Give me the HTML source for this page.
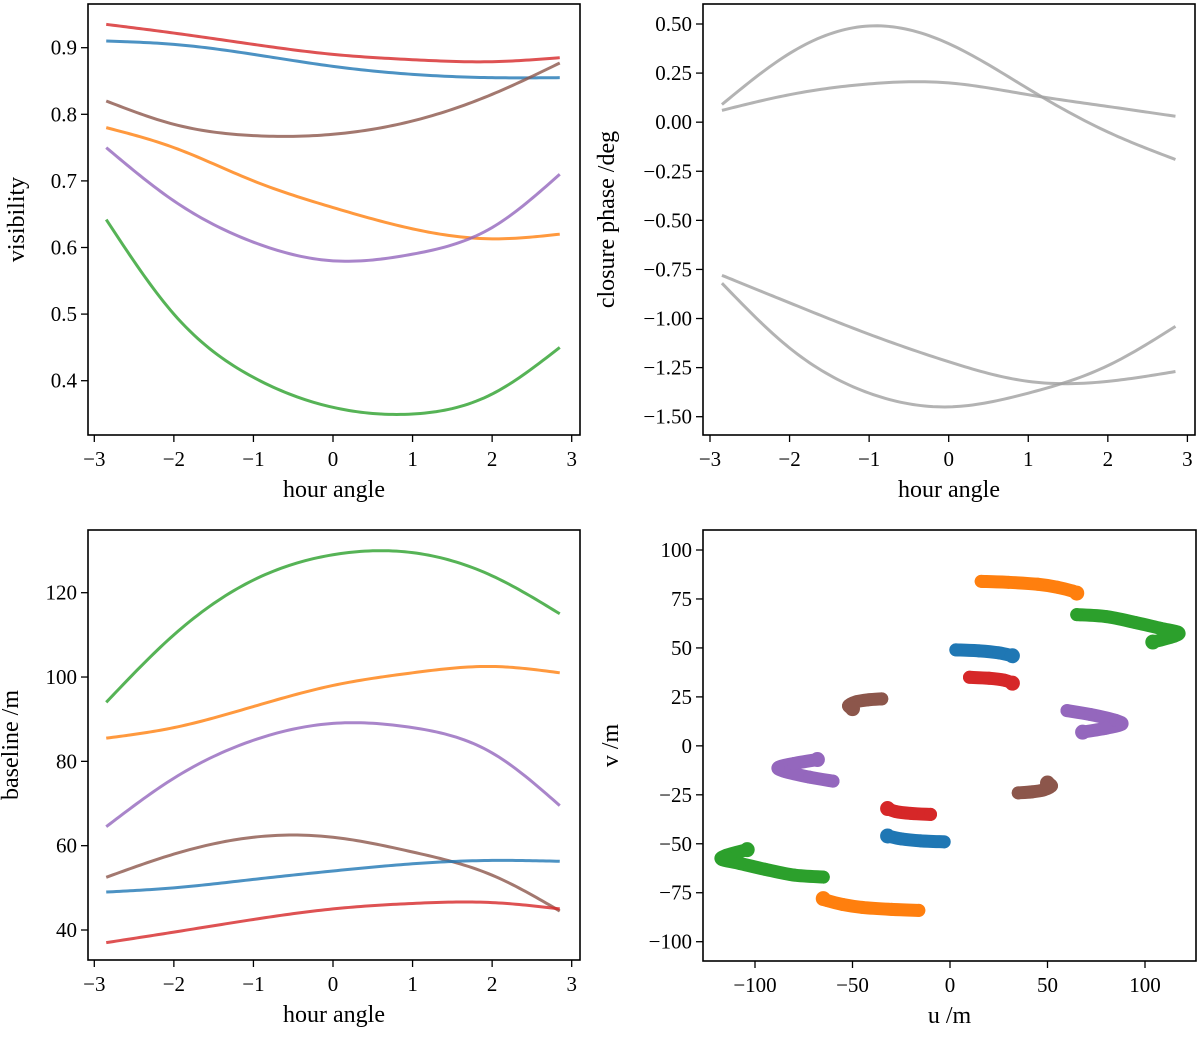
<!DOCTYPE html>
<html><head><meta charset="utf-8"><style>
body{margin:0;background:#fff}
svg text{font-family:"Liberation Serif","DejaVu Serif",serif;fill:#000}
</style></head><body>
<svg id="fig" width="1200" height="1035" xmlns="http://www.w3.org/2000/svg"></svg>
<script>
const hours=[-2.85,-2,-1,0,1,2,2.85];
const visRed=[0.935,0.922,0.905,0.89,0.882,0.879,0.885];
const visBlue=[0.91,0.905,0.89,0.872,0.86,0.855,0.855];
const visBrown=[0.82,0.785,0.768,0.77,0.79,0.83,0.877];
const visOrange=[0.78,0.75,0.70,0.66,0.628,0.613,0.62];
const visPurple=[0.75,0.67,0.608,0.58,0.59,0.63,0.71];
const visGreen=[0.642,0.50,0.405,0.36,0.35,0.38,0.45];
const cpA=[0.09,0.35,0.49,0.40,0.17,-0.05,-0.19];
const cpB=[0.06,0.14,0.195,0.20,0.14,0.08,0.03];
const cpC=[-0.78,-0.92,-1.08,-1.22,-1.32,-1.32,-1.27];
const cpD=[-0.82,-1.15,-1.38,-1.45,-1.38,-1.24,-1.04];
const blGreen=[94,110,123,129,129.5,124,115];
const blOrange=[85.5,88,93,98,101,102.5,101];
const blPurple=[64.5,76,85,89,88,82,69.5];
const blBrown=[52.5,58,62,62,58.5,53,44.5];
const blBlue=[49,50,52,54,55.7,56.5,56.3];
const blRed=[37,39.5,42.5,45,46.3,46.5,45];
const uvOrangeU=[16,30,45,55,63,65], uvOrangeV=[84,83.5,82.5,81,79,78];
const uvGreenU=[65,80,95,108,117,115,104], uvGreenV=[67,66,63,60,58,56,53];
const uvBlueU=[3,15,25,32], uvBlueV=[49,48.5,47.5,46];
const uvRedU=[10,20,28,32], uvRedV=[35,34.5,33.5,32];
const uvBrownU=[-35,-42,-48,-52,-50], uvBrownV=[24,23.5,22.5,20.5,19];
const uvPurpleU=[60,72,85,88,80,68], uvPurpleV=[18,16,13,11,9,7];
const xTicks=[-3,-2,-1,0,1,2,3];
const visTicks=[0.4,0.5,0.6,0.7,0.8,0.9];
const cpTicks=[0.5,0.25,0,-0.25,-0.5,-0.75,-1,-1.25,-1.5];
const blTicks=[40,60,80,100,120];
const uvTicks=[-100,-50,0,50,100];
const vTicks=[-100,-75,-50,-25,0,25,50,75,100];

const C={blue:'#1f77b4',orange:'#ff7f0e',green:'#2ca02c',red:'#d62728',purple:'#9467bd',brown:'#8c564b'};
const NS='http://www.w3.org/2000/svg';
const svg=document.getElementById('fig');
function mk(tag,attrs,parent){const e=document.createElementNS(NS,tag);for(const k in attrs)e.setAttribute(k,attrs[k]);(parent||svg).appendChild(e);return e;}
function lin(d0,d1,r0,r1){return v=>r0+(v-d0)*(r1-r0)/(d1-d0);}
// natural cubic spline path through data points (rendering only)
function splinePath(xs,ys,sx,sy){
  const n=xs.length,h=[],al=[],l=[1],mu=[0],z=[0],c=new Array(n).fill(0),b=[],d=[];
  for(let i=0;i<n-1;i++)h.push(xs[i+1]-xs[i]);
  for(let i=1;i<n-1;i++)al[i]=3/h[i]*(ys[i+1]-ys[i])-3/h[i-1]*(ys[i]-ys[i-1]);
  for(let i=1;i<n-1;i++){l[i]=2*(xs[i+1]-xs[i-1])-h[i-1]*mu[i-1];mu[i]=h[i]/l[i];z[i]=(al[i]-h[i-1]*z[i-1])/l[i];}
  for(let j=n-2;j>=0;j--){c[j]=(j<n-1&&j>0?z[j]-mu[j]*c[j+1]:(j===0?0:0));if(j>0)c[j]=z[j]-mu[j]*c[j+1];b[j]=(ys[j+1]-ys[j])/h[j]-h[j]*(c[j+1]+2*c[j])/3;d[j]=(c[j+1]-c[j])/(3*h[j]);}
  let s='';
  for(let i=0;i<n-1;i++){for(let k=0;k<=20;k++){if(i>0&&k===0)continue;const t=h[i]*k/20;const y=ys[i]+b[i]*t+c[i]*t*t+d[i]*t*t*t;s+=(s?'L':'M')+sx(xs[i]+t).toFixed(2)+','+sy(y).toFixed(2);}}
  return s;
}
function smooth(pts){let d='M'+pts[0][0]+','+pts[0][1];for(let i=0;i<pts.length-1;i++){const p0=pts[Math.max(0,i-1)],p1=pts[i],p2=pts[i+1],p3=pts[Math.min(pts.length-1,i+2)];
const c1=[p1[0]+(p2[0]-p0[0])/6,p1[1]+(p2[1]-p0[1])/6],c2=[p2[0]-(p3[0]-p1[0])/6,p2[1]-(p3[1]-p1[1])/6];
d+=' C'+c1+' '+c2+' '+p2;}return d;}
function fmt(v,dec){return (v<0?'\u2212':'')+Math.abs(v).toFixed(dec);}
function panel(name,x0,y0,x1,y1,sx,sy,xt,xdec,yt,ydec,xlabel,ylabel,ylx){
  const g=mk('g',{});
  
  
  xt.forEach(t=>{const x=sx(t);mk('line',{x1:x,x2:x,y1:y1,y2:y1+7,stroke:'#000','stroke-width':1.3},g);
    const tx=mk('text',{x:x,y:y1+31,'text-anchor':'middle','font-size':21},g);tx.textContent=fmt(t,xdec);
    
    });
  yt.forEach(t=>{const y=sy(t);mk('line',{x1:x0-7,x2:x0,y1:y,y2:y,stroke:'#000','stroke-width':1.3},g);
    const tx=mk('text',{x:x0-11,y:y+7,'text-anchor':'end','font-size':21},g);tx.textContent=fmt(t,ydec);
    
    });
  const xl=mk('text',{x:(x0+x1)/2,y:y1+62,'text-anchor':'middle','font-size':24},g);xl.textContent=xlabel;
  
  
  const cy=(y0+y1)/2;
  const yl=mk('text',{x:ylx,y:cy,'text-anchor':'middle','font-size':24,transform:'rotate(-90 '+ylx+' '+cy+')'},g);yl.textContent=ylabel;
  
  
  return g;
}
function frame(g,x0,y0,x1,y1){const r=mk('rect',{x:x0,y:y0,width:x1-x0,height:y1-y0,fill:'none',stroke:'#000','stroke-width':1.6},g);
  
  }
function lines(g,sx,sy,series,name){series.forEach(([arr,col],i)=>{const p=mk('path',{d:splinePath(hours,arr,sx,sy),fill:'none',stroke:col,'stroke-width':3,'stroke-opacity':0.8},g);
  
  });}

{const x0=88,x1=580,y0=4,y1=435;const sx=lin(-3,3,94.3,571.7),sy=lin(0.9,0.4,47.7,380.7);
 const g=panel('visibility-panel',x0,y0,x1,y1,sx,sy,xTicks,0,visTicks,1,'hour angle','visibility',24);
 lines(g,sx,sy,[[visRed,C.red],[visBlue,C.blue],[visBrown,C.brown],[visOrange,C.orange],[visPurple,C.purple],[visGreen,C.green]],'visibility');
 frame(g,x0,y0,x1,y1);}
{const x0=703,x1=1195,y0=4,y1=435;const sx=lin(-3,3,710,1187.4),sy=lin(0.5,-1.5,24,416.7);
 const g=panel('closure-phase-panel',x0,y0,x1,y1,sx,sy,xTicks,0,cpTicks,2,'hour angle','closure phase /deg',614);
 lines(g,sx,sy,[[cpA,'#a0a0a0'],[cpB,'#a0a0a0'],[cpC,'#a0a0a0'],[cpD,'#a0a0a0']],'closure-phase');
 frame(g,x0,y0,x1,y1);}
{const x0=88,x1=580,y0=530,y1=960;const sx=lin(-3,3,94.3,571.7),sy=lin(120,40,592.7,930);
 const g=panel('baseline-panel',x0,y0,x1,y1,sx,sy,xTicks,0,blTicks,0,'hour angle','baseline /m',18);
 lines(g,sx,sy,[[blGreen,C.green],[blOrange,C.orange],[blPurple,C.purple],[blBrown,C.brown],[blBlue,C.blue],[blRed,C.red]],'baseline');
 frame(g,x0,y0,x1,y1);}
{const x0=703,x1=1196,y0=530,y1=961;const sx=lin(-100,100,755,1145),sy=lin(100,-100,550,941.7);
 const g=panel('uv-coverage-panel',x0,y0,x1,y1,sx,sy,uvTicks,0,vTicks,0,'u /m','v /m',618);
 [[uvOrangeU,uvOrangeV,C.orange],[uvGreenU,uvGreenV,C.green],[uvBlueU,uvBlueV,C.blue],[uvRedU,uvRedV,C.red],[uvBrownU,uvBrownV,C.brown],[uvPurpleU,uvPurpleV,C.purple]].forEach(([U,V,col],i)=>{
   [1,-1].forEach(s=>{const pts=U.map((u,j)=>[sx(s*u),sy(s*V[j])]);
     const p=mk('path',{d:smooth(pts),fill:'none',stroke:col,'stroke-width':13,'stroke-linecap':'round','stroke-linejoin':'round'},g);
     
     
     pts.forEach(q=>{const c=mk('circle',{cx:q[0],cy:q[1],r:6.5,fill:col},g);
       
       });
     const e=mk('circle',{cx:pts[pts.length-1][0],cy:pts[pts.length-1][1],r:7.5,fill:col},g);
     
     });
 });
 frame(g,x0,y0,x1,y1);}
</script>
</body></html>
